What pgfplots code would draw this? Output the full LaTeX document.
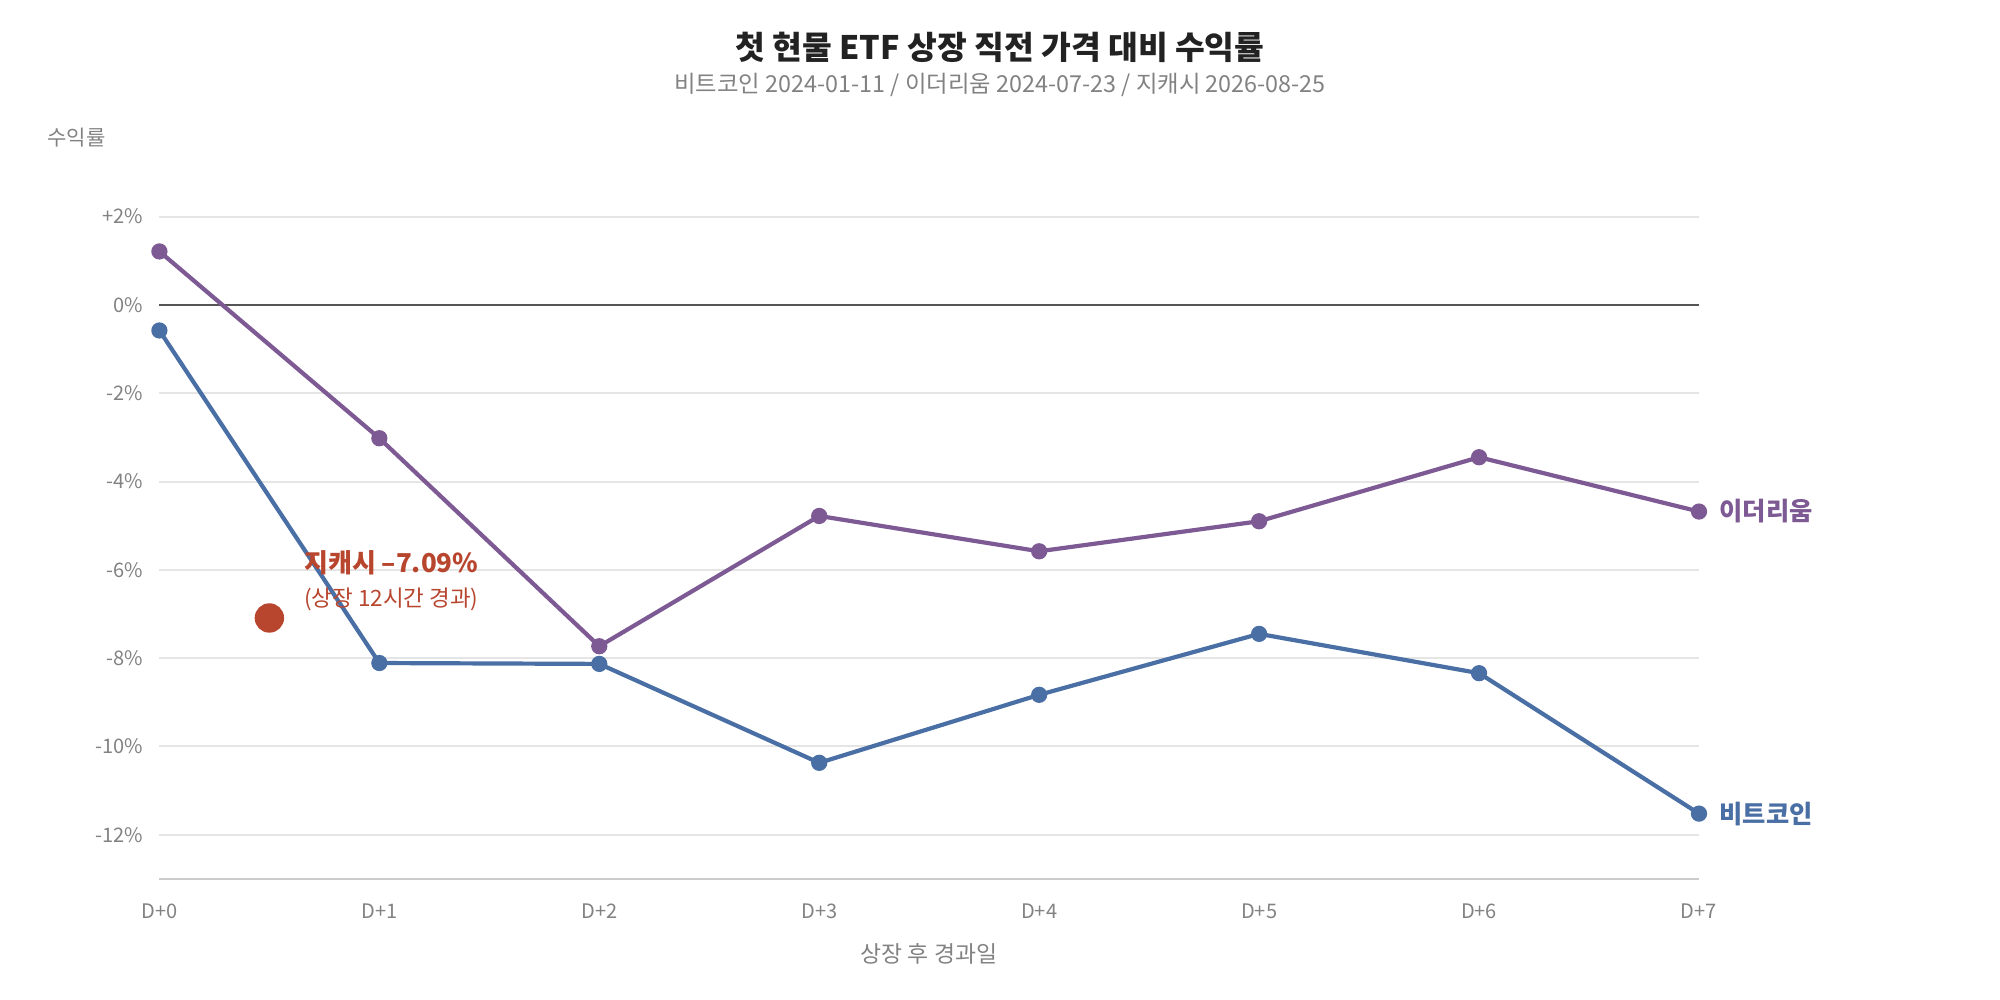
\documentclass[border=0pt]{standalone}
\usepackage{fontspec}
\setmainfont{Noto Sans CJK KR}
\usepackage{pgfplots}
\pgfplotsset{compat=1.18}
\definecolor{eth}{RGB}{125,90,148}
\definecolor{btc}{RGB}{74,111,165}
\definecolor{zec}{RGB}{184,70,47}
\definecolor{tickgray}{RGB}{130,130,130}
\definecolor{gridgray}{RGB}{229,229,229}
\begin{document}
\begin{tikzpicture}
\path[use as bounding box] (0,0) rectangle (200mm,100mm);
\node[font=\fontsize{9.2pt}{11pt}\selectfont\bfseries, text={rgb,255:red,34;green,34;blue,34}] at (100mm,95.3mm) {첫 현물 ETF 상장 직전 가격 대비 수익률};
\node[font=\fontsize{6.65pt}{8pt}\selectfont, text=tickgray] at (100mm,91.5mm) {비트코인 2024-01-11 / 이더리움 2024-07-23 / 지캐시 2026-08-25};
\node[font=\fontsize{6pt}{7pt}\selectfont, text=tickgray] at (7.65mm,86.2mm) {수익률};
\node[font=\fontsize{6.5pt}{8pt}\selectfont, text=tickgray] at (92.9mm,4.6mm) {상장 후 경과일};
\begin{axis}[
  at={(15.94mm,12.1mm)}, anchor=south west,
  scale only axis, width=153.96mm, height=70.66mm,
  xmin=0, xmax=7, ymin=-13, ymax=3,
  axis line style={draw=none},
  major tick length=0pt,
  xtick={0,1,2,3,4,5,6,7},
  xticklabels={D+0,D+1,D+2,D+3,D+4,D+5,D+6,D+7},
  ytick={-12,-10,-8,-6,-4,-2,0,2},
  yticklabels={-12\%,-10\%,-8\%,-6\%,-4\%,-2\%,0\%,+2\%},
  ymajorgrids,
  grid style={gridgray, line width=0.2mm},
  xticklabel style={font=\fontsize{5.7pt}{7pt}\selectfont, text=tickgray, anchor=center, inner sep=0pt, yshift=-3.2mm},
  yticklabel style={font=\fontsize{5.7pt}{7pt}\selectfont, text=tickgray, anchor=east, inner sep=0pt, xshift=-1.6mm},
  clip=false,
]
\draw[line width=0.2mm, color={rgb,255:red,85;green,85;blue,85}] (axis cs:0,0) -- (axis cs:7,0);
\draw[line width=0.2mm, color={rgb,255:red,204;green,204;blue,204}] (axis cs:0,-13) -- (axis cs:7,-13);
\addplot[eth, line width=0.42mm, mark=*, mark size=0.6mm, mark options={solid, fill=eth, draw=eth}] coordinates {
(0,1.21) (1,-3.02) (2,-7.73) (3,-4.78) (4,-5.58) (5,-4.90) (6,-3.45) (7,-4.68)};
\addplot[btc, line width=0.42mm, mark=*, mark size=0.6mm, mark options={solid, fill=btc, draw=btc}] coordinates {
(0,-0.58) (1,-8.11) (2,-8.13) (3,-10.37) (4,-8.83) (5,-7.45) (6,-8.34) (7,-11.52)};
\addplot[only marks, mark=*, mark size=1.4mm, mark options={fill=zec, draw=zec}] coordinates {(0.5,-7.09)};
\node[anchor=west, inner sep=0pt, xshift=2mm, font=\fontsize{7.2pt}{8pt}\selectfont\bfseries, text=eth] at (axis cs:7,-4.68) {이더리움};
\node[anchor=west, inner sep=0pt, xshift=2mm, font=\fontsize{7.2pt}{8pt}\selectfont\bfseries, text=btc] at (axis cs:7,-11.52) {비트코인};
\node[anchor=west, inner sep=0pt, font=\fontsize{7.4pt}{8pt}\selectfont\bfseries, text=zec] at (axis cs:0.655,-5.84) {지캐시 –7.09\%};
\node[anchor=west, inner sep=0pt, font=\fontsize{6.4pt}{7pt}\selectfont, text=zec] at (axis cs:0.655,-6.67) {(상장 12시간 경과)};
\end{axis}
\end{tikzpicture}
\end{document}
